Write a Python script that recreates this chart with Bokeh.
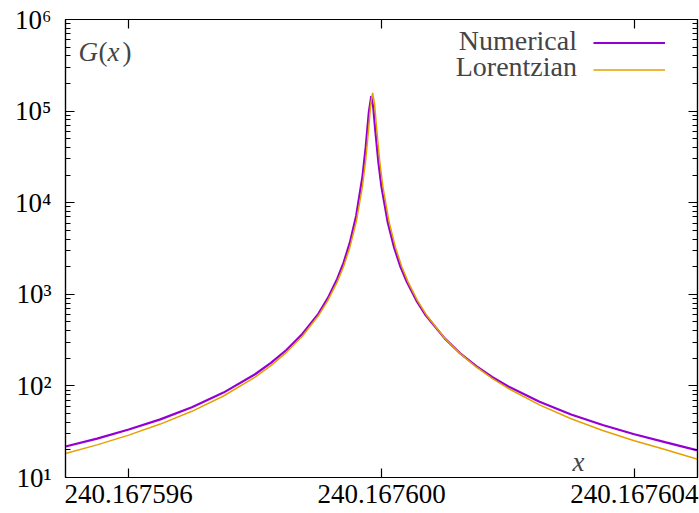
from bokeh.plotting import figure
from bokeh.models import (CustomJSTickFormatter, FixedTicker, LinearAxis, LogAxis,
                          Range1d, Label, Legend, LegendItem)
from bokeh.embed import file_html
from bokeh.resources import INLINE

# ---- data ----
num_x = [240.1675950, 240.1675955, 240.1675960, 240.1675965, 240.1675970, 240.1675975,
         240.1675980, 240.16759825, 240.1675985, 240.16759875, 240.1675990, 240.16759915,
         240.1675993, 240.1675994, 240.1675995, 240.1675996, 240.1675997, 240.16759975,
         240.1675998, 240.167599838, 240.16759987, 240.1675999, 240.16759995, 240.1676000,
         240.1676001, 240.1676002, 240.1676003, 240.1676004, 240.16760055, 240.1676007,
         240.1676010, 240.16760125, 240.1676015, 240.16760175, 240.1676020, 240.1676025,
         240.1676030, 240.1676035, 240.1676040, 240.1676045, 240.1676050]
num_g = [21.8, 26.6, 33.4, 43.1, 58.5, 84.5,
         134, 178, 248, 371, 612, 907,
         1478, 2218, 3686, 7250, 19636, 40370,
         98200, 146000, 108500, 63500, 27900, 14800,
         6030, 3224, 1996, 1370, 860, 590,
         330, 225, 164, 125, 99, 67,
         48.8, 37.4, 29.7, 24.2, 19.8]

lor_x = [240.1675950, 240.1675955, 240.1675960, 240.1675965, 240.1675970, 240.1675975,
         240.1675980, 240.16759825, 240.1675985, 240.16759875, 240.1675990, 240.16759915,
         240.1675993, 240.1675994, 240.1675995, 240.1675996, 240.1675997, 240.16759975,
         240.1675998, 240.16759983, 240.16759986, 240.16759989, 240.16759992, 240.16759997,
         240.16760002, 240.16760012, 240.16760022, 240.16760032, 240.16760042, 240.16760057,
         240.16760072, 240.1676010, 240.16760125, 240.1676015, 240.16760175, 240.1676020,
         240.1676025, 240.1676030, 240.1676035, 240.1676040, 240.1676045, 240.1676050]
lor_g = [18.3, 22.7, 29.0, 38.3, 52.8, 77.6,
         125, 166.5, 234, 350, 582, 853,
         1366, 2016, 3270, 6150, 15300, 29200,
         68600, 120000, 158000, 120000, 68600, 29200,
         15300, 6150, 3270, 2016, 1366, 853,
         582, 332, 223.6, 161, 121, 94.3,
         62.0, 43.8, 32.6, 25.2, 20.1, 15.8]

x_ticks = [240.167596, 240.167600, 240.167604]
y_ticks = [1e1, 1e2, 1e3, 1e4, 1e5, 1e6]
x_lim = (240.167595, 240.167605)
y_lim = (1e1, 1e6)

series_labels = ["Numerical", "Lorentzian"]
x_title = "x"
y_title_parts = ["G", "(", "x", ")"]

FONT = "Liberation Serif"

p = figure(width=699, height=513, y_axis_type="log",
           x_range=Range1d(*x_lim), y_range=Range1d(*y_lim),
           output_backend="svg", toolbar_location=None,
           min_border_left=65, min_border_right=2, min_border_top=19,
           min_border_bottom=36, x_axis_location=None, y_axis_location=None)
p.grid.visible = False
p.outline_line_color = "black"
p.outline_line_width = 1.2
p.background_fill_color = "white"
p.border_fill_color = "white"

minor_y = [m * 10 ** e for e in range(1, 6) for m in range(2, 10)]
xt = FixedTicker(ticks=x_ticks)
yt = FixedTicker(ticks=y_ticks, minor_ticks=minor_y)

xfmt = CustomJSTickFormatter(code="return tick.toFixed(6);")
yfmt = CustomJSTickFormatter(code="""
const sup = "\u2070\u00b9\u00b2\u00b3\u2074\u2075\u2076\u2077\u2078\u2079";
const e = Math.round(Math.log10(tick));
return "10" + sup[e];
""")
blank = CustomJSTickFormatter(code="return '';")


def style(ax, show):
    ax.axis_line_color = "black"
    ax.axis_line_width = 1.2
    ax.major_tick_in = 9
    ax.major_tick_out = 0
    ax.minor_tick_in = 5
    ax.minor_tick_out = 0
    ax.major_tick_line_color = "black"
    ax.major_tick_line_width = 1.2
    ax.minor_tick_line_color = "black"
    ax.minor_tick_line_width = 1.0
    ax.major_label_text_font = FONT
    if show:
        ax.major_label_text_font_size = "27px"
        ax.major_label_text_color = "black"
        ax.major_label_standoff = 7
    else:
        ax.major_label_text_font_size = "0px"
        ax.major_label_standoff = 0


bottom = LinearAxis(ticker=xt, formatter=xfmt)
top = LinearAxis(ticker=xt, formatter=blank)
left = LogAxis(ticker=yt, formatter=yfmt)
right = LogAxis(ticker=yt, formatter=blank)
for ax, show in ((bottom, True), (top, False)):
    style(ax, show)
    ax.minor_tick_line_color = None
for ax, show in ((left, True), (right, False)):
    style(ax, show)
left.major_label_standoff = 14
p.add_layout(bottom, "below")
p.add_layout(top, "above")
p.add_layout(left, "left")
p.add_layout(right, "right")

r1 = p.line(num_x, num_g, line_color="#9400D3", line_width=2.2)
r2 = p.line(lor_x, lor_g, line_color="#E69F00", line_width=1.5)

leg = Legend(items=[LegendItem(label=" ", renderers=[r1]),
                    LegendItem(label=" ", renderers=[r2])],
             location=(527.5, 394.5), glyph_width=72, glyph_height=27,
             label_width=0, label_height=27, label_standoff=0,
             padding=0, margin=0, spacing=0,
             border_line_color=None, background_fill_alpha=0,
             label_text_font_size="10px")
p.add_layout(leg)

for txt, yy in zip(series_labels, (437, 411)):
    p.add_layout(Label(x=511.5, y=yy, x_units="screen", y_units="screen",
                       text=txt, text_font=FONT, text_font_size="28px",
                       text_align="right", text_baseline="alphabetic"))
p.add_layout(Label(x=513, y=16, x_units="screen", y_units="screen",
                   text=x_title, text_font=FONT, text_font_style="italic",
                   text_font_size="27px", text_align="center",
                   text_baseline="alphabetic"))
for txt, xx, sty in zip(y_title_parts, (13, 33, 42, 57),
                        ("italic", "normal", "italic", "normal")):
    p.add_layout(Label(x=xx, y=426, x_units="screen", y_units="screen",
                       text=txt, text_font=FONT, text_font_style=sty,
                       text_font_size="27px", text_align="left",
                       text_baseline="alphabetic"))

open("out.html", "w").write(file_html(p, INLINE))
